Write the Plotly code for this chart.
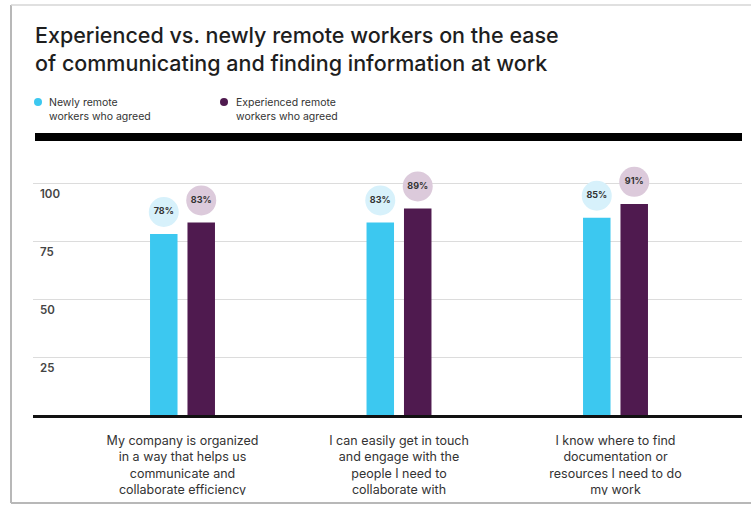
import plotly.graph_objects as go

# ---- data ----
categories = [
    "My company is organized<br>in a way that helps us<br>communicate and<br>collaborate efficiency",
    "I can easily get in touch<br>and engage with the<br>people I need to<br>collaborate with",
    "I know where to find<br>documentation or<br>resources I need to do<br>my work",
]
newly_remote = [78, 83, 85]
experienced_remote = [83, 89, 91]
series_names = ["Newly remote<br>workers who agreed", "Experienced remote<br>workers who agreed"]
y_ticks = [25, 50, 75, 100]

# ---- style ----
W, H = 751, 506
M_L, M_R, M_T, M_B = 33, 9, 150, 91
PW, PH = W - M_L - M_R, H - M_T - M_B
CYAN, PURPLE = "#3cc8f0", "#4f1a4f"
CYAN_L, PURPLE_L = "#d7f1fb", "#dccadb"
FONT = "Inter"

x_pos = list(range(len(categories)))
bar_w = 0.127
off_new, off_exp = -0.150, 0.023
lift = 9.5  # label bubble above bar, in value units

def px_x(p):
    return (p - M_L) / PW

def px_y(p):
    return (H - M_B - p) / PH

fig = go.Figure()
fig.add_trace(go.Bar(x=x_pos, y=newly_remote, width=bar_w, offset=off_new,
                     marker=dict(color=CYAN, line=dict(width=0)), showlegend=False,
                     name="Newly remote workers who agreed"))
fig.add_trace(go.Bar(x=x_pos, y=experienced_remote, width=bar_w, offset=off_exp,
                     marker=dict(color=PURPLE, line=dict(width=0)), showlegend=False,
                     name="Experienced remote workers who agreed"))

for vals, off, col in [(newly_remote, off_new, CYAN_L), (experienced_remote, off_exp, PURPLE_L)]:
    fig.add_trace(go.Scatter(
        x=[x + off + bar_w / 2 for x in x_pos],
        y=[v + lift for v in vals],
        mode="markers+text",
        marker=dict(size=30, color=col, line=dict(width=0)),
        text=[f"{v}%" for v in vals],
        textposition="middle center",
        textfont=dict(family=FONT, size=9, color="#333333", weight=700),
        showlegend=False, hoverinfo="skip"))

shapes = []
# thick black rule under legend
shapes.append(dict(type="rect", xref="paper", yref="paper",
                   x0=px_x(35), x1=px_x(742), y0=px_y(141), y1=px_y(133),
                   fillcolor="#000000", line=dict(width=0), layer="above"))
# legend dots
for cx, col in [(38, CYAN), (224, PURPLE)]:
    r = 4
    shapes.append(dict(type="circle", xref="paper", yref="paper",
                       x0=px_x(cx - r), x1=px_x(cx + r), y0=px_y(102 + r), y1=px_y(102 - r),
                       fillcolor=col, line=dict(width=0), layer="above"))
# clip bottom & frame
shapes.append(dict(type="rect", xref="paper", yref="paper",
                   x0=px_x(0), x1=px_x(W), y0=px_y(H + 2), y1=px_y(495),
                   fillcolor="white", line=dict(width=0), layer="above"))
frame_col = "#b8b8b8"
shapes.append(dict(type="line", xref="paper", yref="paper",
                   x0=px_x(11), x1=px_x(11), y0=px_y(503), y1=px_y(5),
                   line=dict(color=frame_col, width=2), layer="above"))
shapes.append(dict(type="line", xref="paper", yref="paper",
                   x0=px_x(11), x1=px_x(W), y0=px_y(503), y1=px_y(503),
                   line=dict(color=frame_col, width=2), layer="above"))
shapes.append(dict(type="line", xref="paper", yref="paper",
                   x0=px_x(11), x1=px_x(W), y0=px_y(5), y1=px_y(5),
                   line=dict(color="#d6d6d6", width=1.5), layer="above"))

annotations = []
for tx, name in [(47, series_names[0]), (234, series_names[1])]:
    annotations.append(dict(xref="paper", yref="paper", x=px_x(tx), y=px_y(94),
                            xanchor="left", yanchor="top", align="left",
                            text=name, showarrow=False,
                            font=dict(family=FONT, size=10.5, color="#333333")))

fig.update_layout(
    width=W, height=H,
    margin=dict(l=M_L, r=M_R, t=M_T, b=M_B, pad=0),
    paper_bgcolor="white", plot_bgcolor="white",
    title=dict(text="Experienced vs. newly remote workers on the ease<br>of communicating and finding information at work",
               x=35 / W, xanchor="left", xref="container",
               y=1 - 43 / H, yanchor="top", yref="container",
               font=dict(family=FONT, size=21.5, color="#1e1e1e", weight=500)),
    barmode="overlay",
    shapes=shapes, annotations=annotations,
    xaxis=dict(range=[-(182.5 - M_L) / 216.5, -(182.5 - M_L) / 216.5 + PW / 216.5],
               tickvals=x_pos, ticktext=categories, showgrid=False, zeroline=False,
               showline=True, linecolor="#111111", linewidth=3, ticks="",
               ticklabelstandoff=12,
               tickfont=dict(family=FONT, size=12.5, color="#333333")),
    yaxis=dict(range=[0, PH / 2.32], tickvals=y_ticks, showgrid=True,
               gridcolor="#dcdcdc", gridwidth=1, zeroline=False, showline=False,
               ticks="", ticklabelposition="inside", ticklabelshift=11,
               ticklabelstandoff=4,
               tickfont=dict(family=FONT, size=11.5, color="#444444", weight=600)),
    showlegend=False,
)

fig.write_html("out.html")
